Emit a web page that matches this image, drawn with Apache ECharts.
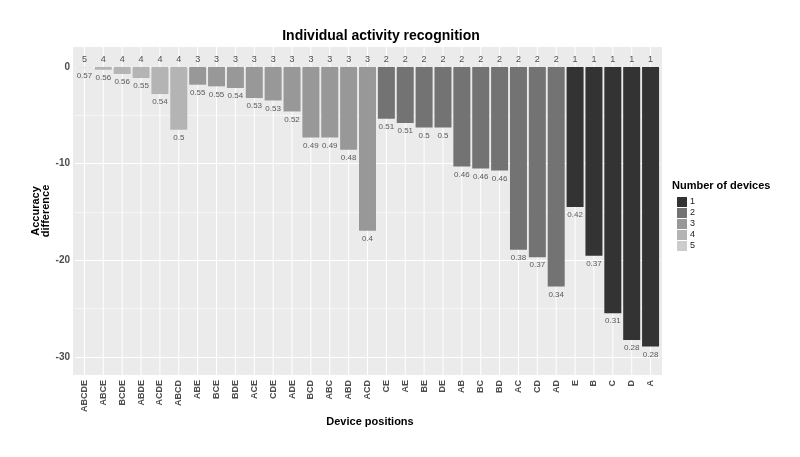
<!DOCTYPE html>
<html>
<head>
<meta charset="utf-8">
<script src="https://cdn.jsdelivr.net/npm/echarts@6/dist/echarts.min.js"></script>
<style>
html,body{margin:0;padding:0;background:#fff;}
#chart{width:800px;height:457px;}
</style>
</head>
<body>
<div id="chart"></div>
<script>
const categories = ['ABCDE','ABCE','BCDE','ABDE','ACDE','ABCD','ABE','BCE','BDE','ACE','CDE','ADE','BCD','ABC','ABD','ACD','CE','AE','BE','DE','AB','BC','BD','AC','CD','AD','E','B','C','D','A'];
const accuracyDiff = [-0.05,-0.28,-0.72,-1.14,-2.8,-6.49,-1.83,-2.0,-2.17,-3.21,-3.46,-4.6,-7.29,-7.3,-8.56,-16.95,-5.35,-5.8,-6.25,-6.25,-10.29,-10.5,-10.7,-18.91,-19.67,-22.71,-14.49,-19.53,-25.47,-28.23,-28.92];
const accuracyLabels = ['0.57','0.56','0.56','0.55','0.54','0.5','0.55','0.55','0.54','0.53','0.53','0.52','0.49','0.49','0.48','0.4','0.51','0.51','0.5','0.5','0.46','0.46','0.46','0.38','0.37','0.34','0.42','0.37','0.31','0.28','0.28'];
const numDevices = [5,4,4,4,4,4,3,3,3,3,3,3,3,3,3,3,2,2,2,2,2,2,2,2,2,2,1,1,1,1,1];
const deviceLevels = ['1','2','3','4','5'];
const levelColors = ['#333333','#737373','#989898','#B4B4B4','#CCCCCC'];
const yTickValues = [0,-10,-20,-30];

const chart = echarts.init(document.getElementById('chart'), null, {renderer:'canvas'});

const barSeries = deviceLevels.map((lv, k) => ({
  name: lv,
  type: 'bar',
  barGap: '-100%',
  barCategoryGap: '10%',
  itemStyle: { color: levelColors[k] },
  data: accuracyDiff.map((v, i) => String(numDevices[i]) === lv ? v : null),
  silent: true,
  z: 3
}));

const gridLineSeries = {
  type: 'custom',
  silent: true,
  z: 1,
  data: categories.map((c, i) => [i, 0]),
  encode: { x: 0, y: 1 },
  renderItem: (params, api) => {
    const cs = params.coordSys;
    const x = api.coord([api.value(0), 0])[0];
    return { type: 'line', shape: { x1: x, y1: cs.y, x2: x, y2: cs.y + cs.height }, style: { stroke: '#ffffff', lineWidth: 1 } };
  }
};

const valueLabelSeries = {
  type: 'scatter',
  symbolSize: 0,
  silent: true,
  data: accuracyDiff.map((v, i) => [i, v]),
  label: {
    show: true, position: 'bottom', distance: 4,
    formatter: p => accuracyLabels[p.dataIndex],
    fontFamily: 'Liberation Sans', fontSize: 8, color: '#333333'
  },
  z: 5
};

const countLabelSeries = {
  type: 'scatter',
  symbolSize: 0,
  silent: true,
  data: numDevices.map((n, i) => [i, 0]),
  label: {
    show: true, position: 'top', distance: 3,
    formatter: p => String(numDevices[p.dataIndex]),
    fontFamily: 'Liberation Sans', fontSize: 9, color: '#1a1a1a'
  },
  z: 5
};

const option = {
  animation: false,
  backgroundColor: '#ffffff',
  textStyle: { fontFamily: 'Liberation Sans' },
  grid: { left: 75, right: 140, top: 47, bottom: 82, show: true, backgroundColor: '#EBEBEB', borderWidth: 0 },
  legend: {
    data: deviceLevels,
    orient: 'vertical',
    left: 672, top: 192,
    itemWidth: 10, itemHeight: 10, itemGap: 1,
    icon: 'rect',
    textStyle: { fontFamily: 'Liberation Sans', fontSize: 9, color: '#1a1a1a', lineHeight: 10, padding: [0,0,0,-2] },
    selectedMode: false
  },
  xAxis: {
    type: 'category',
    data: categories,
    axisLine: { show: false },
    axisTick: { show: true, alignWithLabel: true, length: 3, lineStyle: { color: '#333333' } },
    axisLabel: { rotate: 90, fontSize: 9, fontWeight: 'bold', color: '#4D4D4D', margin: 5, interval: 0 },
    splitLine: { show: false }
  },
  yAxis: {
    type: 'value',
    min: -31.86, max: 2.07,
    splitNumber: 7,
    axisLine: { show: false },
    axisTick: { show: false },
    axisLabel: {
      fontSize: 10, fontWeight: 'bold', color: '#4D4D4D', margin: 5,
      showMinLabel: false, showMaxLabel: false,
      formatter: v => (yTickValues.indexOf(Math.round(v * 1000) / 1000) >= 0 ? String(v) : '')
    },
    splitLine: { show: true, showMinLine: false, showMaxLine: false, lineStyle: { color: ['#ffffff', '#f6f6f6'], width: 1 } }
  },
  graphic: [
    { type: 'rect', z: -10, silent: true, shape: { x: 73, y: 47, width: 589, height: 328 }, style: { fill: '#EBEBEB' } },
    { type: 'text', silent: true, style: { x: 381, y: 36, text: 'Individual activity recognition', textAlign: 'center', textVerticalAlign: 'middle', font: 'bold 14px "Liberation Sans"', fill: '#000000' } },
    { type: 'text', silent: true, style: { x: 370, y: 422, text: 'Device positions', textAlign: 'center', textVerticalAlign: 'middle', font: 'bold 11px "Liberation Sans"', fill: '#000000' } },
    { type: 'text', silent: true, x: 41, y: 211, rotation: Math.PI / 2, style: { x: 0, y: 0, text: 'Accuracy\ndifference', textAlign: 'center', textVerticalAlign: 'middle', font: 'bold 11px "Liberation Sans"', lineHeight: 10, fill: '#000000' } },
    { type: 'text', silent: true, style: { x: 672, y: 186, text: 'Number of devices', textAlign: 'left', textVerticalAlign: 'middle', font: 'bold 11px "Liberation Sans"', fill: '#000000' } }
  ],
  series: [gridLineSeries].concat(barSeries, [valueLabelSeries, countLabelSeries])
};
chart.setOption(option);
</script>
</body>
</html>
